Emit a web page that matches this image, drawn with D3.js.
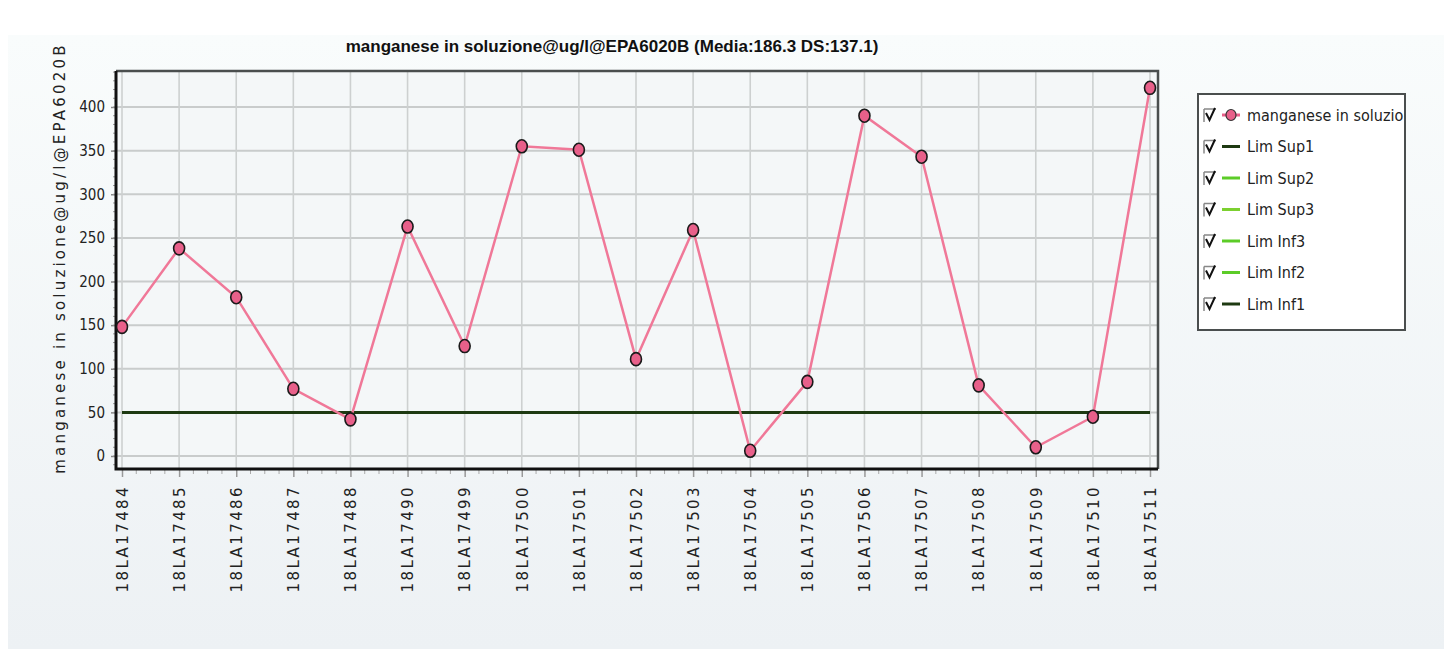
<!DOCTYPE html>
<html><head><meta charset="utf-8">
<script src="https://cdn.jsdelivr.net/npm/d3@7"></script>
<style>html,body{margin:0;padding:0;background:#fff;}svg{display:block;}</style>
</head><body>
<svg id="c" width="1444" height="649"></svg>
<script>
const categories = ["18LA17484","18LA17485","18LA17486","18LA17487","18LA17488","18LA17490","18LA17499","18LA17500","18LA17501","18LA17502","18LA17503","18LA17504","18LA17505","18LA17506","18LA17507","18LA17508","18LA17509","18LA17510","18LA17511"];
const values = [148,238,182,77,42,263,126,355,351,111,259,6,85,390,343,81,10,45,422];
const limitValue = 50;
const yTicks = [0,50,100,150,200,250,300,350,400];
const legendLabels = ["manganese in soluzio","Lim Sup1","Lim Sup2","Lim Sup3","Lim Inf3","Lim Inf2","Lim Inf1"];
const legendColors = ["#e8608a","#1e3a12","#5ccc28","#7cd030","#5ccc28","#5ccc28","#1e3a12"];
const titleText = "manganese in soluzione@ug/l@EPA6020B (Media:186.3 DS:137.1)";
const yLabel = "manganese in soluzione@ug/l@EPA6020B";

const svg = d3.select("#c");
const defs = svg.append("defs");
const g1 = defs.append("linearGradient").attr("id","bg").attr("x1",0).attr("y1",0).attr("x2",0).attr("y2",1);
g1.append("stop").attr("offset","0%").attr("stop-color","#f9fcfc");
g1.append("stop").attr("offset","100%").attr("stop-color","#edf1f4");
svg.append("rect").attr("x",8).attr("y",35).attr("width",1436).attr("height",614).attr("fill","url(#bg)");

const L=116, R=1158, T=71, B=469;
const x = d3.scalePoint().domain(categories).range([122,1150]);
const y = d3.scaleLinear().domain([0,400]).range([456,107]);

// plot background
svg.append("rect").attr("x",L).attr("y",T).attr("width",R-L).attr("height",B-T).attr("fill","#f4f7f8");

// grid
svg.append("g").selectAll("line").data(yTicks).join("line")
  .attr("x1",L).attr("x2",R).attr("y1",d=>y(d)).attr("y2",d=>y(d))
  .attr("stroke","#c9cccc").attr("stroke-width",2);
svg.append("g").selectAll("line").data(categories).join("line")
  .attr("x1",d=>x(d)).attr("x2",d=>x(d)).attr("y1",T).attr("y2",B)
  .attr("stroke","#cdd0d0").attr("stroke-width",1.6);

// frame top/right
svg.append("path").attr("d",`M${L},${T}H${R}V${B}`).attr("fill","none").attr("stroke","#4a4e4e").attr("stroke-width",2.5);

// y axis
const yAxis = d3.axisLeft(y).tickValues(yTicks).tickSize(5).tickPadding(6);
const ya = svg.append("g").attr("transform",`translate(${L},0)`).call(yAxis);
ya.select(".domain").remove();
ya.selectAll("line").attr("stroke","#888").attr("stroke-width",1.5);
ya.selectAll("text").attr("font-family","'Liberation Sans Narrow','DejaVu Sans Condensed',sans-serif").attr("font-size",15).attr("fill","#222");
// y minor ticks
const yMinor = d3.range(-10,441,10);
svg.append("g").selectAll("line").data(yMinor).join("line")
  .attr("x1",L-3).attr("x2",L).attr("y1",d=>y(d)).attr("y2",d=>y(d))
  .attr("stroke","#999").attr("stroke-width",1);

// x axis
const xAxis = d3.axisBottom(x).tickSize(8).tickPadding(0);
const xa = svg.append("g").attr("transform",`translate(0,${B})`).call(xAxis);
xa.select(".domain").remove();
xa.selectAll("line").attr("stroke","#999").attr("stroke-width",1.5);
xa.selectAll("text")
  .attr("transform","rotate(-90)")
  .attr("text-anchor","end")
  .attr("x",-16).attr("y",0).attr("dy","0.35em")
  .attr("font-family","'DejaVu Sans',sans-serif").attr("font-size",15)
  .attr("letter-spacing","2.4px").attr("fill","#222");
// x minor ticks
const step = x.step();
const xMinor = [];
categories.forEach((c,i)=>{ for(let k=1;k<4;k++){ const v=x(c)+k*step/4; if(v<R) xMinor.push(v);} });
svg.append("g").selectAll("line").data(xMinor).join("line")
  .attr("x1",d=>d).attr("x2",d=>d).attr("y1",B).attr("y2",B+5)
  .attr("stroke","#aaa").attr("stroke-width",1);

// axis lines left/bottom
svg.append("path").attr("d",`M${L},${T}V${B}H${R}`).attr("fill","none").attr("stroke","#111").attr("stroke-width",3);

// limit line
svg.append("line").attr("x1",x(categories[0])).attr("x2",x(categories[categories.length-1]))
  .attr("y1",y(limitValue)).attr("y2",y(limitValue))
  .attr("stroke","#1e3a12").attr("stroke-width",3);

// series line
const line = d3.line().x((d,i)=>x(categories[i])).y(d=>y(d));
svg.append("path").datum(values).attr("d",line).attr("fill","none").attr("stroke","#f07898").attr("stroke-width",2.5);
svg.append("g").selectAll("ellipse").data(values).join("ellipse")
  .attr("cx",(d,i)=>x(categories[i])).attr("cy",d=>y(d)).attr("rx",5.5).attr("ry",6.5)
  .attr("fill","#e8608a").attr("stroke","#1a1a1a").attr("stroke-width",1.6);

// title
svg.append("text").attr("x",612).attr("y",52).attr("text-anchor","middle")
  .attr("font-family","'Liberation Sans Narrow',sans-serif").attr("font-weight","bold").attr("font-size",17)
  .attr("fill","#111").text(titleText);

// y label
svg.append("text").attr("transform",`translate(65,258) rotate(-90)`).attr("text-anchor","middle")
  .attr("font-family","'DejaVu Sans',sans-serif").attr("font-size",15).attr("letter-spacing","3.2px")
  .attr("fill","#222").text(yLabel);

// legend
const lg = svg.append("g");
lg.append("rect").attr("x",1198).attr("y",94).attr("width",207).attr("height",236)
  .attr("fill","#ffffff").attr("stroke","#4a4e4e").attr("stroke-width",2);
const rows = lg.selectAll("g").data(legendLabels).join("g")
  .attr("transform",(d,i)=>`translate(0,${115+i*31.5})`);
rows.append("path").attr("d","M1204,-6V7M1204,-6H1216").attr("stroke","#888").attr("stroke-width",1.5).attr("fill","none");
rows.append("path").attr("d","M1206,-2L1209.5,5L1215,-7").attr("stroke","#111").attr("stroke-width",2).attr("fill","none");
rows.append("line").attr("x1",1222).attr("x2",1240).attr("y1",0).attr("y2",0)
  .attr("stroke",(d,i)=>legendColors[i]).attr("stroke-width",3);
rows.filter((d,i)=>i===0).append("ellipse").attr("cx",1231).attr("cy",0).attr("rx",5).attr("ry",5.5)
  .attr("fill","#e8608a").attr("stroke","#333").attr("stroke-width",1.2);
rows.append("text").attr("x",1247).attr("y",0).attr("dy","0.35em")
  .attr("font-family","'Liberation Sans Narrow','DejaVu Sans Condensed',sans-serif").attr("font-size",16)
  .attr("fill","#222").text(d=>d);
</script>
</body></html>
